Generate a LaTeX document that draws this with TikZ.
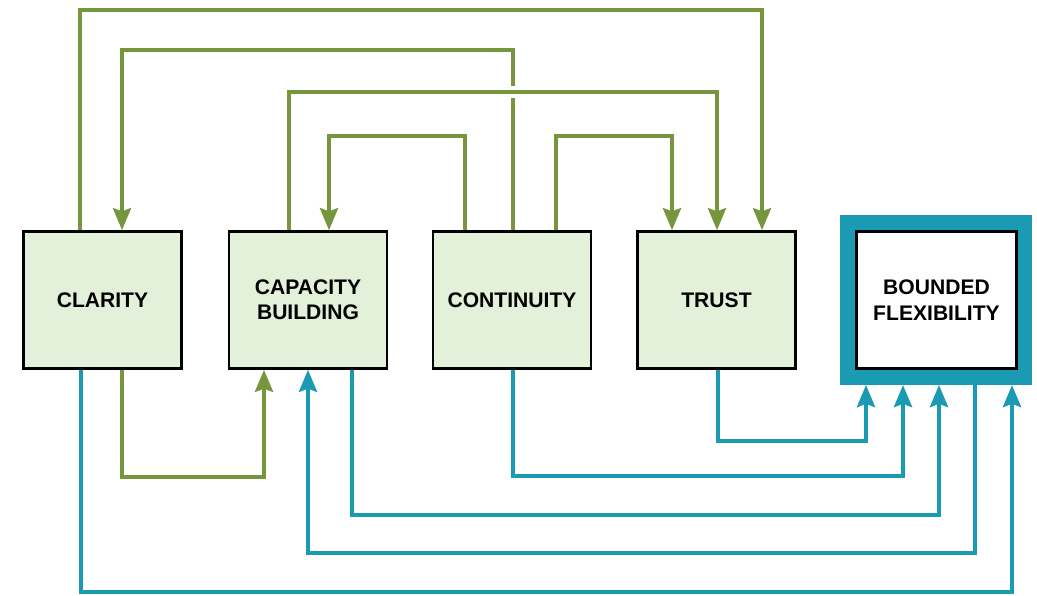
\documentclass[tikz,border=0pt]{standalone}
\usepackage{fontspec}
\setmainfont{Liberation Sans}
\usetikzlibrary{arrows.meta}
\usetikzlibrary{backgrounds}
\definecolor{leafgreen}{HTML}{76963E}
\definecolor{tealline}{HTML}{1A9BB3}
\definecolor{palegreen}{HTML}{E4F1DA}

\begin{document}
\begin{tikzpicture}[x=0.025cm, y=-0.025cm,
  box/.style={draw=black, line width=0.07cm, fill=palegreen, minimum width=3.95cm, minimum height=3.42cm, align=center, font=\bfseries\fontsize{15}{18}\selectfont},
  gline/.style={leafgreen, line width=0.1cm, ->},
  tline/.style={tealline, line width=0.1cm, ->},
  >={Stealth[length=0.55cm, width=0.45cm, inset=0.08cm]}]
\useasboundingbox (0,0) rectangle (1037,595);

\node[box] (cla) at (102.5,300) {CLARITY};
\node[box] (cap) at (308,300) {CAPACITY\\BUILDING};
\node[box] (con) at (512,300) {CONTINUITY};
\node[box] (tru) at (716.5,300) {TRUST};
\node[draw=tealline, line width=0.375cm, minimum width=4.425cm, minimum height=3.875cm] (rim) at (936,300) {};
\node[box, fill=white, minimum width=4cm] (bf) at (936.5,300) {BOUNDED\\FLEXIBILITY};

\begin{scope}[on background layer]
% green links over the top
\draw[gline] (80,0 |- cla.north) -- (80,10) -| (762,0 |- tru.north);
\draw[gline] (513,0 |- con.north) -- (513,50) -| (122,0 |- cla.north);
\draw[gline, preaction={draw=white, line width=0.3cm, -}] (289,0 |- cap.north) -- (289,92) -| (717,0 |- tru.north);
\draw[gline] (465,0 |- con.north) -- (465,136) -| (329,0 |- cap.north);
\draw[gline] (556,0 |- con.north) -- (556,136) -| (672,0 |- tru.north);
% links underneath
\draw[gline] (122,0 |- cla.south) -- (122,477) -| (264,0 |- cap.south);
\draw[tline] (718,0 |- tru.south) -- (718,441) -| (866,0 |- rim.south);
\draw[tline] (513,0 |- con.south) -- (513,476) -| (903,0 |- rim.south);
\draw[tline] (352,0 |- cap.south) -- (352,515) -| (939,0 |- rim.south);
\draw[tline] (975,0 |- rim.south) -- (975,553) -| (308,0 |- cap.south);
\draw[tline] (81,0 |- cla.south) -- (81,592) -| (1012,0 |- rim.south);
\end{scope}
\end{tikzpicture}
\end{document}
